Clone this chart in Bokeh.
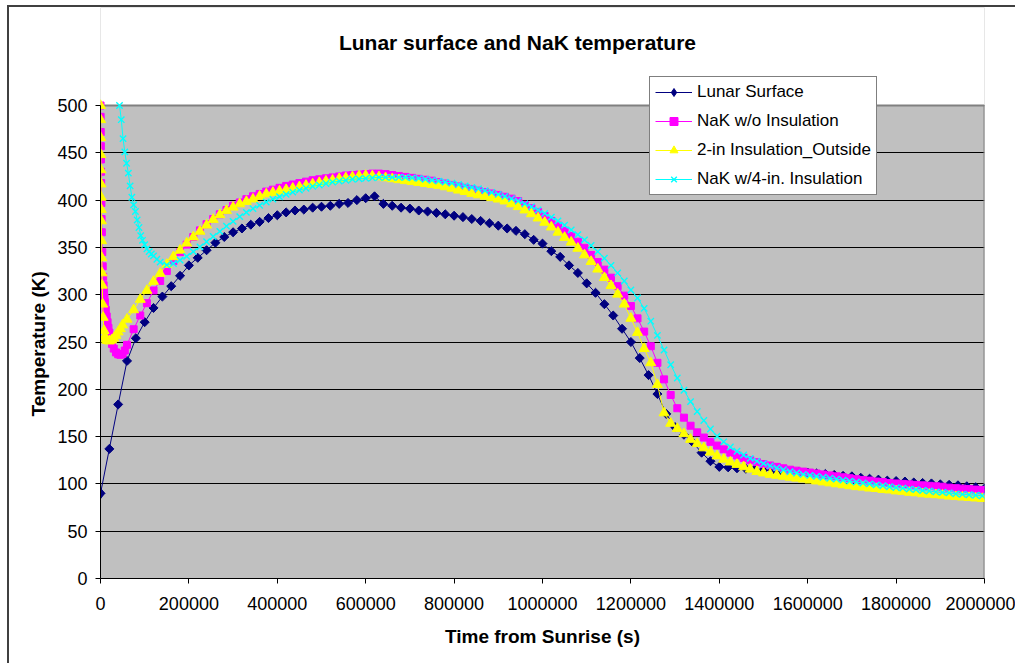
import math
from bokeh.plotting import figure
from bokeh.models import (Range1d, FixedTicker, BasicTickFormatter, Legend, LegendItem,
                          Label, BoxAnnotation, Title)
from bokeh.embed import file_html
from bokeh.resources import INLINE

# ---------------- data ----------------
title_text = "Lunar surface and NaK temperature"
x_label = "Time from Sunrise (s)"
y_label = "Temperature (K)"
series_names = ["Lunar Surface", "NaK w/o Insulation", "2-in Insulation_Outside", "NaK w/4-in. Insulation"]

x_ticks = [0, 200000, 400000, 600000, 800000, 1000000, 1200000, 1400000, 1600000, 1800000, 2000000]
y_ticks = [0, 50, 100, 150, 200, 250, 300, 350, 400, 450, 500]

# Lunar surface: every 20000 s
lunar_t = list(range(0, 2000001, 20000))
lunar_v = [
    90, 137, 184, 230, 254, 271, 286, 298, 309, 320,
    331, 339, 347, 355, 361, 366, 370, 374, 377, 381,
    384, 387, 389, 390, 392, 393, 394, 396, 397, 400,
    402, 404, 396, 394, 392, 391, 389, 388, 386.5, 385,
    383.5, 382, 380, 378, 375.5, 373, 370, 367.5, 364, 358,
    354, 346, 340, 331, 323, 312, 302, 290, 278, 264,
    250, 233, 215, 195, 174, 160, 152, 144, 133, 124,
    118, 117.5, 116.5, 116, 115.5, 115, 114.5, 114, 113, 112.5,
    112, 111, 110.5, 109.5, 108.5, 108, 106.5, 105.5, 104.5, 103.5,
    103, 102.5, 101.5, 101, 100.5, 99.5, 99, 98.5, 97.5, 96.5,
    95,
]

# NaK series: fine early output, then every 15000 s
nak_grid_t = list(range(60000, 2000000, 15000))

nak_early_t = [0, 250, 500, 750, 1000, 1250, 1500, 2000, 2500, 3000, 4000, 5000, 6000, 7000,
               8000, 9000, 10000, 12000, 14000, 16000, 18000, 20000, 23000, 26000, 30000,
               35000, 40000, 45000, 50000, 55000]
nak_early_v = [500, 488, 472, 457, 443, 430, 418, 397, 380, 366, 345, 330, 319, 310,
               303, 297, 292, 284, 277, 271, 265, 260, 253, 248, 243,
               239, 237, 236.5, 237.5, 241]
nak_grid_v = [
    247, 263.5, 278, 291, 304.5, 314.5, 325, 335.5, 345, 353,
    361, 368, 374.5, 380, 385, 389.5, 394, 397.5, 401, 404,
    406.5, 409, 411, 413, 415, 416.5, 418, 419.5, 421, 422,
    423, 424, 425, 426, 426.5, 427, 427.5, 428, 428, 427.5,
    426.5, 425.5, 424.5, 423.5, 422.5, 421.5, 420.5, 419, 417.5, 416,
    414.5, 413, 411.5, 410, 408.5, 407, 405.5, 403.5, 401.5, 399,
    395, 391.5, 387.5, 383, 378, 373, 367.5, 362, 356, 349.5,
    342, 334.5, 326.5, 318, 309, 299, 288, 275, 261, 245.5,
    228, 210.5, 194, 180, 170, 161.5, 154.5, 149, 144.5, 140.5,
    136.5, 133, 130, 127.5, 125, 123, 121, 119.5, 118, 116.5,
    115, 114, 113, 112, 111, 110, 109, 108, 107, 106,
    105, 104, 103.5, 102.5, 102, 101, 100.5, 100, 99.5, 99,
    98.5, 98, 97.5, 97, 96, 95.5, 95, 94.5, 94, 93.5,
]

ins2_early_t = [0, 250, 500, 750, 1000, 1250, 1500, 1750, 2000, 2500, 3000, 3500, 4000,
                5000, 6000, 8000, 10000, 12500, 15000, 20000, 25000, 30000, 35000,
                40000, 45000, 50000]
ins2_early_v = [500, 485, 466, 448, 432, 417, 403, 390, 378, 357, 339, 323, 310,
                290, 276, 262, 256, 253, 251.5, 251, 252, 254, 257,
                260.5, 264, 268]
ins2_grid_v = [
    274, 284, 295, 304.5, 314, 322.5, 332, 340, 347, 354.5,
    361, 367, 373.5, 379.5, 384.5, 389, 392.5, 396, 398.5, 401,
    404, 406.5, 408, 409.5, 411, 412.5, 414, 415.5, 417, 418.5,
    420, 421, 422.5, 423.5, 424.5, 425.5, 426, 425.5, 424.5, 423.5,
    422.5, 421.5, 420.5, 419.5, 418.5, 417.5, 416.5, 415.5, 414, 412.5,
    410.5, 409, 407, 405.5, 404, 402.5, 401, 399, 396, 393,
    389.5, 385.5, 381, 376.5, 371.5, 366, 360.5, 355.5, 349, 342,
    335, 327, 318, 309.5, 300.5, 290, 275, 260, 243, 228,
    205, 175, 164, 158.5, 153, 147, 142.5, 138, 133.5, 129.5,
    126, 123, 120.5, 118, 115.5, 113, 111.5, 110, 109, 108,
    107, 106, 105, 104, 103, 102, 101, 100, 99, 98,
    97, 96.5, 95.5, 95, 94, 93.5, 92.5, 92, 91, 90.5,
    89.5, 89, 88.5, 88, 87, 86.5, 86, 85.5, 85, 84.5,
]

ins4_early_t = [43000, 47000, 51000, 55000, 59000, 63000, 67000, 71000, 75000, 79000,
                83000, 87000, 91000, 95000, 100000, 105000, 110000, 115000, 120000,
                127500, 135000]
ins4_early_v = [500, 485, 465, 451, 439, 428.5, 415, 403, 395, 388,
                379, 371, 362.5, 357.5, 353, 348.5, 345.5, 343, 341,
                337.5, 334.5]
ins4_grid_t = list(range(150000, 2000000, 15000))
ins4_grid_v = [
    331.5, 333, 336.5, 340.5,
    345.5, 350.5, 356, 361.5, 367, 372.5, 377.5, 382.5, 387, 391,
    394.5, 398, 401, 403.5, 406, 408.5, 410.5, 412.5, 414.5, 416,
    417.5, 419, 420, 421, 422, 422.5, 423, 423.5, 424, 424,
    424, 424, 424, 423.5, 423, 422, 421, 420, 419, 418,
    416.5, 415, 413.5, 412, 410, 408, 406, 404, 401.5, 399,
    396, 393, 389.5, 386, 382, 378, 373.5, 368.5, 363.5, 358,
    352, 345.5, 338.5, 331, 323, 314.5, 305, 296.5, 285.5, 272,
    257, 241.5, 226, 212, 199, 187, 176.5, 167, 158, 150.5,
    144.5, 139, 134.5, 130.5, 127, 124, 121.5, 119, 117, 115,
    113, 111.5, 110, 109, 108, 107, 106, 105, 104, 103,
    102, 101, 100, 99, 98, 97, 96, 95.5, 94.5, 94,
    93, 92.5, 91.5, 91, 90.5, 89.5, 89, 88.5, 88, 87.5,
]

# ---------------- figure ----------------
FONT = "Liberation Sans"
X_MIN, X_MAX = 0, 2000000
Y_MIN, Y_MAX = 0, 500
# extra room above the 500 line (white area holding title and legend)
Y_TOP = 603.6

p = figure(width=1008, height=658, output_backend="svg", toolbar_location=None, title=None,
           x_range=Range1d(X_MIN, X_MAX), y_range=Range1d(Y_MIN, Y_TOP),
           min_border_left=91, min_border_right=33, min_border_top=0, min_border_bottom=87,
           background_fill_color="#C0C0C0", border_fill_color="white")
p.styles = {"margin-left": "7px", "margin-top": "5px",
            "border-left": "2px solid #404040", "border-top": "2px solid #404040"}
p.outline_line_color = None

p.xgrid.grid_line_color = None
p.ygrid.grid_line_color = "black"
p.ygrid.grid_line_width = 1

# white area above the plot area
p.add_layout(BoxAnnotation(bottom=Y_MAX, fill_color="white", fill_alpha=1.0,
                           line_alpha=0, level="underlay"))

p.xaxis.ticker = FixedTicker(ticks=x_ticks)
p.yaxis.ticker = FixedTicker(ticks=y_ticks)
p.xaxis.formatter = BasicTickFormatter(use_scientific=False)
p.yaxis.bounds = (Y_MIN, Y_MAX)

for ax in (p.xaxis, p.yaxis):
    ax.axis_line_color = "black"
    ax.axis_line_width = 1
    ax.major_tick_line_color = "black"
    ax.major_tick_out = 5
    ax.major_tick_in = 0
    ax.minor_tick_line_color = None
    ax.major_label_text_font = FONT
    ax.major_label_text_font_size = "18px"
    ax.major_label_text_color = "black"
    ax.axis_label_text_font = FONT
    ax.axis_label_text_font_size = "19px"
    ax.axis_label_text_font_style = "bold"
    ax.axis_label_text_color = "black"

p.xaxis.axis_label = x_label
p.xaxis.major_label_standoff = 13
p.yaxis.major_label_standoff = 8
p.xaxis.axis_label_standoff = 13

# y-axis title, centred on the 0..500 part of the axis
p.add_layout(Title(text=y_label, align="left", offset=162, standoff=12,
                   text_font=FONT, text_font_size="19px", text_font_style="bold",
                   text_color="black"), "left")

# plot-area border: top and right edges in grey
p.segment(x0=[X_MIN, X_MAX], y0=[Y_MAX, Y_MIN], x1=[X_MAX, X_MAX], y1=[Y_MAX, Y_MAX],
          line_color="#808080", line_width=2)

# ---------------- series ----------------
l0 = p.line(lunar_t, lunar_v, line_color="#000080", line_width=1)
s0 = p.scatter(lunar_t, lunar_v, marker="square", angle=math.pi / 4, size=6.4,
               fill_color="#000080", line_color="#000080")
# diamond glyph used for the legend key (drawn on the first lunar point)
s0_key = p.scatter(lunar_t[:1], lunar_v[:1], marker="diamond", size=11,
                   fill_color="#000080", line_color="#000080")

t1 = nak_early_t + nak_grid_t
v1 = nak_early_v + nak_grid_v
l1 = p.line(t1, v1, line_color="#FF00FF", line_width=1)
s1 = p.scatter(t1, v1, marker="square", size=7, fill_color="#FF00FF", line_color="#FF00FF")

t2 = ins2_early_t + nak_grid_t
v2 = ins2_early_v + ins2_grid_v
l2 = p.line(t2, v2, line_color="#FFFF00", line_width=1)
s2 = p.scatter(t2, v2, marker="triangle", size=10, fill_color="#FFFF00", line_color="#FFFF00")

t3 = ins4_early_t + ins4_grid_t
v3 = ins4_early_v + ins4_grid_v
l3 = p.line(t3, v3, line_color="#00FFFF", line_width=1)
s3 = p.scatter(t3, v3, marker="x", size=9, line_color="#00FFFF", line_width=1.4)

# ---------------- title ----------------
title_x = X_MIN + (X_MAX - X_MIN) * 0.4717
title_y = Y_MAX + (Y_TOP - Y_MAX) * 0.638
p.add_layout(Label(x=title_x, y=title_y, text=title_text, text_align="center",
                   text_baseline="middle", text_font=FONT, text_font_size="21px",
                   text_font_style="bold", text_color="black"))

# ---------------- legend ----------------
legend = Legend(items=[
    LegendItem(label=series_names[0], renderers=[l0, s0_key]),
    LegendItem(label=series_names[1], renderers=[l1, s1]),
    LegendItem(label=series_names[2], renderers=[l2, s2]),
    LegendItem(label=series_names[3], renderers=[l3, s3]),
], location=(549, 383))
legend.border_line_color = "black"
legend.border_line_width = 1
legend.background_fill_color = "white"
legend.background_fill_alpha = 1
legend.label_text_font = FONT
legend.label_text_font_size = "17px"
legend.label_text_color = "black"
legend.glyph_width = 37
legend.glyph_height = 20
legend.label_height = 20
legend.label_standoff = 5
legend.spacing = 9
legend.padding = 5
legend.margin = 0
p.add_layout(legend)

open("out.html", "w").write(file_html(p, INLINE))
